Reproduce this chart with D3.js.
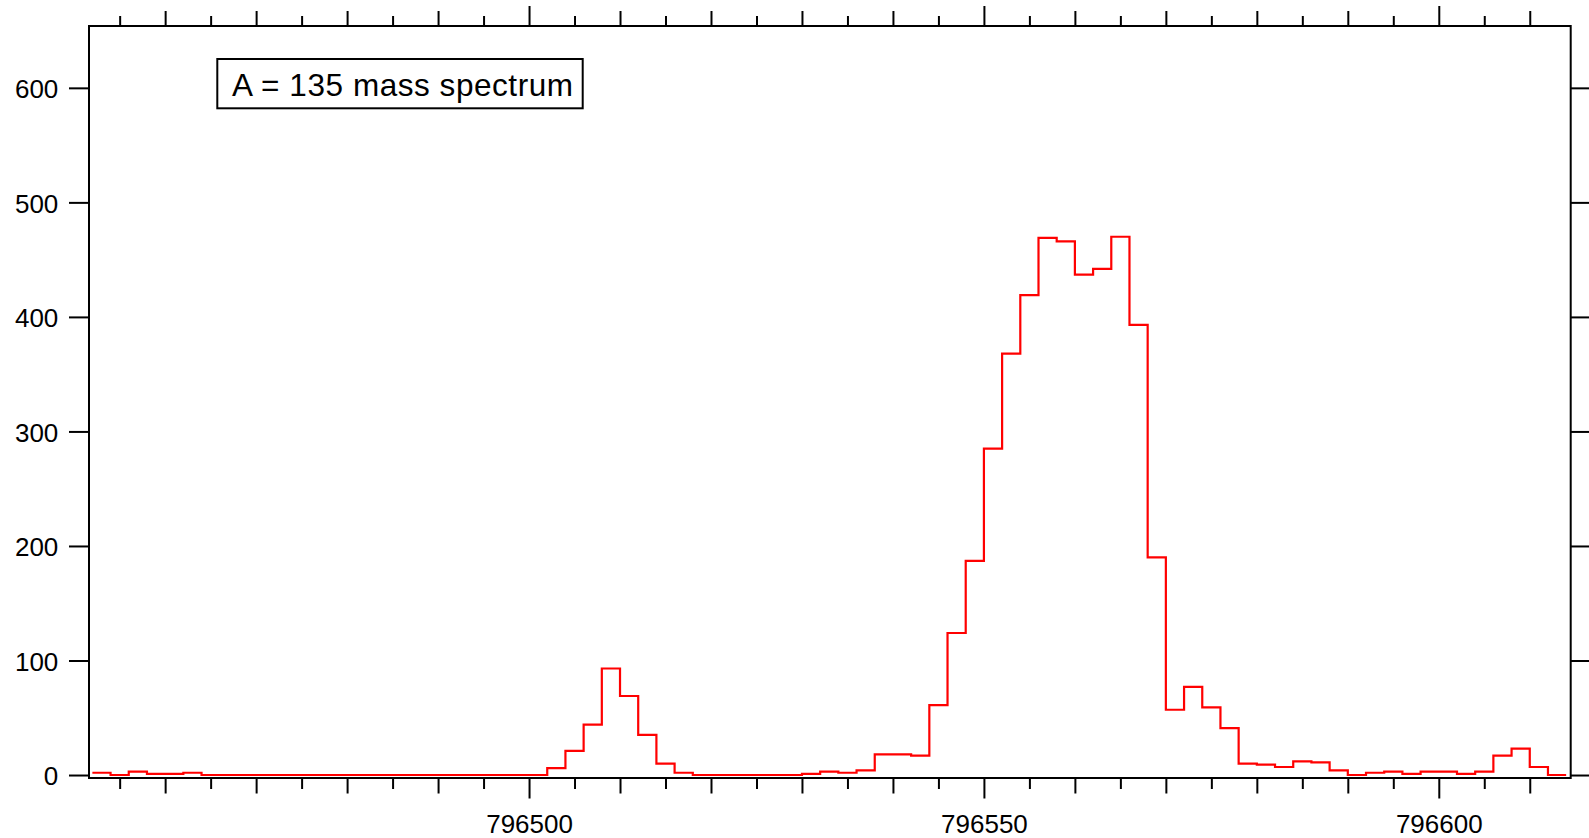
<!DOCTYPE html>
<html>
<head>
<meta charset="utf-8">
<script src="https://cdn.jsdelivr.net/npm/d3@7"></script>
<style>
  html, body { margin: 0; padding: 0; background: #fff; }
  svg { display: block; font-family: "Liberation Sans", Arial, sans-serif; }
</style>
</head>
<body>
<div id="chart"></div>
<script>
// data: histogram bins (left edges, width 2) and counts
var binLo = [796452,796454,796456,796458,796460,796462,796464,796466,796468,796470,
             796472,796474,796476,796478,796480,796482,796484,796486,796488,796490,
             796492,796494,796496,796498,796500,796502,796504,796506,796508,796510,
             796512,796514,796516,796518,796520,796522,796524,796526,796528,796530,
             796532,796534,796536,796538,796540,796542,796544,796546,796548,796550,
             796552,796554,796556,796558,796560,796562,796564,796566,796568,796570,
             796572,796574,796576,796578,796580,796582,796584,796586,796588,796590,
             796592,796594,796596,796598,796600,796602,796604,796606,796608,796610,
             796612]
var binWidth = 2
var counts = [2,0,3,1,1,2,0,0,0,0,
              0,0,0,0,0,0,0,0,0,0,
              0,0,0,0,0,6,21,44,93,69,
              35,10,2,0,0,0,0,0,0,1,
              3,2,4,18,18,17,61,124,187,285,
              368,419,469,466,437,442,470,393,190,57,
              77,59,41,10,9,7,12,11,4,0,
              2,3,1,3,3,1,3,17,23,7,
              0]
var xLabels = [796500, 796550, 796600]
var yLabels = [0, 100, 200, 300, 400, 500, 600]
var title = "A = 135 mass spectrum"

var svgW = 1589, svgH = 838
var margins = {left: 89, right: 18.3, top: 26, bottom: 60}
var chartW = svgW - margins.left - margins.right
var chartH = svgH - margins.top - margins.bottom

var svg = d3.select('#chart').append('svg')
    .attr('width', svgW)
    .attr('height', svgH)
svg.append('rect').attr('width', svgW).attr('height', svgH).attr('fill', '#fff')

var chart = svg.append('g')
    .attr('transform', `translate(${margins.left},${margins.top})`)

var xscale = d3.scaleLinear()
    .domain([796451.63, 796614.5])
    .range([0, chartW])
var yscale = d3.scaleLinear()
    .domain([-2.6, 654])
    .range([chartH, 0])

// tick sets
var medTicks = d3.range(796460, 796615, 10).filter(v => xLabels.indexOf(v) < 0)
var minTicks = d3.range(796455, 796615, 10)

function styleAxis(g) {
    g.select('.domain').remove()
    g.selectAll('line').attr('stroke', '#000').attr('stroke-width', 2)
    g.selectAll('text').attr('fill', '#000').attr('font-size', 26)
}

// bottom ticks
chart.append('g').attr('transform', `translate(0,${chartH})`)
    .call(d3.axisBottom(xscale).tickValues(xLabels).tickSize(20.5).tickPadding(16.5)
        .tickFormat(d3.format('d')))
    .call(styleAxis)
chart.append('g').attr('transform', `translate(0,${chartH})`)
    .call(d3.axisBottom(xscale).tickValues(medTicks).tickSize(15.5).tickFormat(''))
    .call(styleAxis)
chart.append('g').attr('transform', `translate(0,${chartH})`)
    .call(d3.axisBottom(xscale).tickValues(minTicks).tickSize(11).tickFormat(''))
    .call(styleAxis)

// top ticks
chart.append('g')
    .call(d3.axisTop(xscale).tickValues(xLabels).tickSize(20).tickFormat(''))
    .call(styleAxis)
chart.append('g')
    .call(d3.axisTop(xscale).tickValues(medTicks).tickSize(15).tickFormat(''))
    .call(styleAxis)
chart.append('g')
    .call(d3.axisTop(xscale).tickValues(minTicks).tickSize(10).tickFormat(''))
    .call(styleAxis)

// left / right ticks
var yl = chart.append('g')
    .call(d3.axisLeft(yscale).tickValues(yLabels).tickSize(20).tickPadding(10.7))
    .call(styleAxis)
yl.selectAll('text').attr('dy', '0.37em')
chart.append('g').attr('transform', `translate(${chartW},0)`)
    .call(d3.axisRight(yscale).tickValues(yLabels).tickSize(20).tickFormat(''))
    .call(styleAxis)

// frame
chart.append('rect')
    .attr('x', 0).attr('y', 0)
    .attr('width', chartW).attr('height', chartH)
    .attr('fill', 'none').attr('stroke', '#000').attr('stroke-width', 2)

// step histogram
var pts = binLo.map((b, i) => [b, counts[i]])
pts.push([binLo[binLo.length - 1] + binWidth, counts[counts.length - 1]])
var line = d3.line()
    .x(d => xscale(d[0]))
    .y(d => yscale(d[1]))
    .curve(d3.curveStepAfter)
chart.append('path')
    .datum(pts)
    .attr('d', line)
    .attr('fill', 'none')
    .attr('stroke', '#ff0000')
    .attr('stroke-width', 2.2)

// label box
svg.append('rect')
    .attr('x', 217.3).attr('y', 59)
    .attr('width', 365.4).attr('height', 49.3)
    .attr('fill', '#fff').attr('stroke', '#000').attr('stroke-width', 2)
svg.append('text')
    .attr('x', 232).attr('y', 95.5)
    .attr('font-size', 31.5)
    .attr('textLength', 341)
    .attr('lengthAdjust', 'spacing')
    .attr('fill', '#000')
    .text(title)
</script>
</body>
</html>
